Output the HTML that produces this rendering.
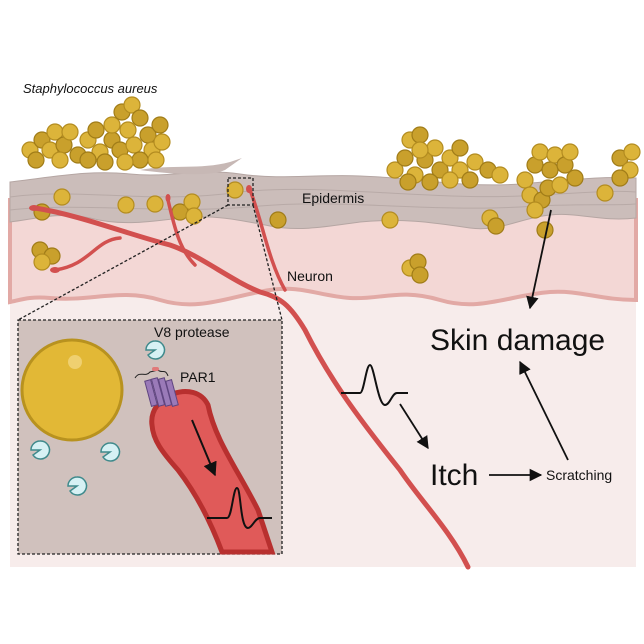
<!DOCTYPE html>
<html><head><meta charset="utf-8"><style>
html,body{margin:0;padding:0;background:#fff;width:644px;height:644px;overflow:hidden}
text{font-family:"Liberation Sans",sans-serif}
</style></head><body>
<svg width="644" height="644" viewBox="0 0 644 644" xmlns="http://www.w3.org/2000/svg">
<defs>
<marker id="ah" viewBox="0 0 10 10" refX="9" refY="5" markerWidth="7" markerHeight="7" orient="auto"><path d="M0,0 L10,5 L0,10 z" fill="#111"/></marker>
<g id="b"><circle r="8" fill="#dcb43a" stroke="#b38c20" stroke-width="1.2"/></g>
<g id="d"><circle r="8" fill="#c9a02c" stroke="#a07c18" stroke-width="1.2"/></g>
<g id="p"><path d="M0,-9 A9,9 0 1,1 -7,5 L0,0 L-9,0 A9,9 0 0,1 0,-9z" fill="#d6f1f4" stroke="#3f8a8c" stroke-width="1.5"/></g>
</defs>
<rect x="10" y="185" width="626" height="382" fill="#f7eceb"/>
<path d="M10,200 L636,200 L636,300 C600,300 580,290 550,292 C510,295 480,312 440,300 C400,288 380,300 350,298 C320,296 300,285 270,290 C230,296 200,312 160,300 C120,288 90,302 50,298 C30,296 20,300 10,302 Z" fill="#f3d7d5" stroke="#e2a9a5" stroke-width="4"/>
<path d="M10,182 C60,176 90,170 130,174 C170,178 200,168 240,174 C280,180 320,174 360,176 C420,178 460,188 520,184 C570,180 600,176 636,178 L636,218 C600,222 580,212 550,215 C520,218 500,232 470,228 C430,222 400,218 360,222 C330,226 300,232 270,226 C240,220 210,214 180,218 C150,222 120,226 90,218 C60,212 40,218 10,222 Z" fill="#cbbdba" stroke="#b5a6a3" stroke-width="1"/>
<path d="M10,197 C80,187 150,205 240,192 C320,183 420,200 520,196 C580,193 610,190 636,192" fill="none" stroke="#b8aaa7" stroke-width="1"/>
<path d="M10,210 C80,202 170,215 260,206 C340,199 430,212 520,207 C580,203 610,206 636,204" fill="none" stroke="#b8aaa7" stroke-width="1"/>
<path d="M140,170 C170,164 200,170 230,162 L242,158 L225,170 C210,177 170,174 140,170z" fill="#c7b8b5"/>
<g>
<use href="#b" x="30" y="150"/><use href="#d" x="42" y="140"/><use href="#b" x="55" y="132"/><use href="#d" x="36" y="160"/><use href="#b" x="50" y="150"/><use href="#d" x="64" y="145"/><use href="#b" x="70" y="132"/><use href="#d" x="78" y="155"/><use href="#b" x="88" y="140"/><use href="#d" x="96" y="130"/><use href="#b" x="100" y="152"/><use href="#d" x="112" y="140"/><use href="#b" x="112" y="125"/><use href="#d" x="122" y="112"/><use href="#b" x="132" y="105"/><use href="#d" x="140" y="118"/><use href="#b" x="128" y="130"/><use href="#d" x="120" y="150"/><use href="#b" x="134" y="145"/><use href="#d" x="148" y="135"/><use href="#b" x="152" y="150"/><use href="#d" x="160" y="125"/><use href="#b" x="162" y="142"/><use href="#d" x="140" y="160"/><use href="#b" x="156" y="160"/><use href="#d" x="105" y="162"/><use href="#b" x="60" y="160"/><use href="#d" x="88" y="160"/><use href="#b" x="125" y="162"/>
<use href="#d" x="42" y="212"/><use href="#b" x="62" y="197"/><use href="#b" x="126" y="205"/><use href="#b" x="155" y="204"/><use href="#d" x="180" y="212"/><use href="#b" x="192" y="202"/><use href="#b" x="194" y="216"/><use href="#b" x="235" y="190"/><use href="#d" x="278" y="220"/>
<use href="#d" x="40" y="250"/><use href="#d" x="52" y="256"/><use href="#b" x="42" y="262"/>
<use href="#b" x="410" y="268"/><use href="#d" x="418" y="262"/><use href="#d" x="420" y="275"/>
<use href="#b" x="390" y="220"/><use href="#b" x="490" y="218"/><use href="#d" x="496" y="226"/><use href="#d" x="545" y="230"/><use href="#b" x="605" y="193"/>
</g>
<g>
<use href="#b" x="395" y="170"/><use href="#d" x="405" y="158"/><use href="#b" x="410" y="140"/><use href="#d" x="420" y="135"/><use href="#b" x="415" y="175"/><use href="#d" x="425" y="160"/><use href="#b" x="435" y="148"/><use href="#d" x="440" y="170"/><use href="#b" x="450" y="158"/><use href="#d" x="460" y="148"/><use href="#b" x="460" y="170"/><use href="#d" x="470" y="180"/><use href="#b" x="475" y="162"/><use href="#d" x="488" y="170"/><use href="#b" x="500" y="175"/><use href="#d" x="430" y="182"/><use href="#b" x="450" y="180"/><use href="#d" x="408" y="182"/><use href="#b" x="420" y="150"/>
<use href="#b" x="525" y="180"/><use href="#d" x="535" y="165"/><use href="#b" x="540" y="152"/><use href="#d" x="550" y="170"/><use href="#b" x="555" y="155"/><use href="#d" x="565" y="165"/><use href="#b" x="570" y="152"/><use href="#d" x="575" y="178"/><use href="#b" x="530" y="195"/><use href="#d" x="542" y="200"/><use href="#b" x="535" y="210"/><use href="#d" x="548" y="188"/><use href="#b" x="560" y="185"/>
<use href="#d" x="620" y="158"/><use href="#b" x="630" y="170"/><use href="#d" x="620" y="178"/><use href="#b" x="632" y="152"/>
</g>
<g fill="none" stroke="#d2504f" stroke-linecap="round">
<path d="M35,208 C80,215 130,235 170,245 C200,255 230,280 260,292 C280,297 290,305 305,330 C330,380 360,420 400,470 C420,500 450,530 468,567" stroke-width="5"/>
<path d="M168,200 C175,230 180,250 195,265" stroke-width="3.5"/>
<path d="M250,190 C262,220 268,260 285,290" stroke-width="3.5"/>
<path d="M120,238 C95,240 90,265 55,270" stroke-width="3.5"/>
</g>
<g fill="#d2504f"><ellipse cx="34" cy="208" rx="5" ry="3"/><ellipse cx="55" cy="270" rx="5" ry="3"/><ellipse cx="168" cy="198" rx="2.5" ry="4"/><ellipse cx="249" cy="189" rx="3" ry="4"/></g>
<g fill="none" stroke="#222" stroke-width="1.3" stroke-dasharray="3,2">
<rect x="228" y="178" width="25" height="27"/>
<line x1="228" y1="205" x2="18" y2="320"/>
<line x1="253" y1="205" x2="282" y2="320"/>
<rect x="18" y="320" width="264" height="234" fill="#d0c1bd"/>
</g>
<circle cx="72" cy="390" r="50" fill="#e2b836" stroke="#b8921f" stroke-width="3"/>
<circle cx="75" cy="362" r="7" fill="#efd070"/>
<path d="M152,425 C148,395 195,378 208,405 C215,440 238,470 258,510 L272,552 L222,552 C210,520 195,492 178,470 C162,452 153,440 152,425Z" fill="#e05a59" stroke="#b8302f" stroke-width="5"/>
<g fill="#9a7ab8" stroke="#5f4580" stroke-width="1"><rect x="148" y="380" width="6" height="26" transform="rotate(-15 151 393)"/><rect x="155" y="378" width="6" height="28" transform="rotate(-15 158 392)"/><rect x="162" y="378" width="6" height="28" transform="rotate(-15 165 392)"/><rect x="169" y="380" width="6" height="26" transform="rotate(-15 172 393)"/></g>
<path d="M135,378 C140,370 145,378 150,372 L158,370 C162,374 165,368 168,376" fill="none" stroke="#222" stroke-width="1"/>
<rect x="152" y="367" width="7" height="4" rx="2" fill="#e07a7a"/>
<line x1="192" y1="420" x2="215" y2="475" stroke="#111" stroke-width="2" marker-end="url(#ah)"/>
<path d="M207,518 L227,518 C232,518 233,488 237,488 C241,488 240,528 248,528 C252,528 255,518 260,518 L272,518" fill="none" stroke="#111" stroke-width="2"/>
<use href="#p" x="155" y="350"/><use href="#p" x="40" y="450"/><use href="#p" x="110" y="452"/><use href="#p" x="77" y="486"/>
<path d="M341,393 L360,393 C364,393 366,365 370,365 C374,365 378,405 385,405 C390,405 392,393 397,393 L408,393" fill="none" stroke="#111" stroke-width="2"/>
<line x1="400" y1="404" x2="428" y2="448" stroke="#111" stroke-width="1.8" marker-end="url(#ah)"/>
<line x1="489" y1="475" x2="541" y2="475" stroke="#111" stroke-width="1.8" marker-end="url(#ah)"/>
<line x1="568" y1="460" x2="520" y2="362" stroke="#111" stroke-width="1.8" marker-end="url(#ah)"/>
<line x1="551" y1="210" x2="530" y2="308" stroke="#111" stroke-width="1.8" marker-end="url(#ah)"/>
<text x="23" y="93" font-size="13" font-style="italic" fill="#111">Staphylococcus aureus</text>
<text x="302" y="203" font-size="14" fill="#111">Epidermis</text>
<text x="287" y="281" font-size="14" fill="#111">Neuron</text>
<text x="430" y="350" font-size="30" fill="#111">Skin damage</text>
<text x="430" y="485" font-size="30" fill="#111">Itch</text>
<text x="546" y="480" font-size="14" fill="#111">Scratching</text>
<text x="154" y="337" font-size="14" fill="#111">V8 protease</text>
<text x="180" y="382" font-size="14" fill="#111">PAR1</text>
</svg>
</body></html>
